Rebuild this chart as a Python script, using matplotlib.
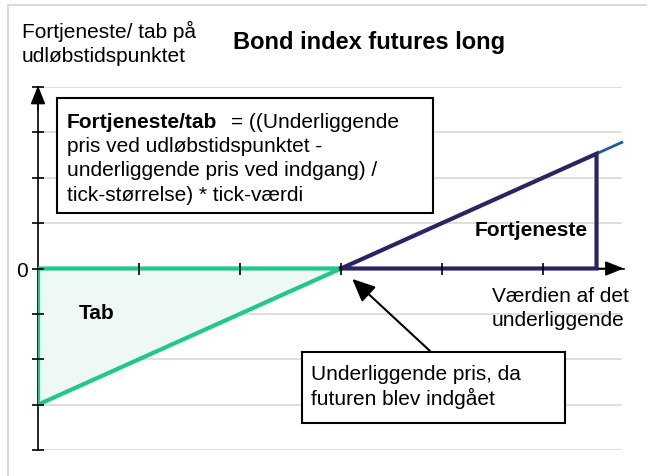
import matplotlib.pyplot as plt
from matplotlib.patches import Rectangle
from matplotlib.lines import Line2D

plt.rcParams['font.family'] = ['Liberation Sans', 'DejaVu Sans']

W, H = 647, 477

# payoff of a long bond index future (entry price at x = 3)
entry = 3.0
loss_x = [0, 0, 3]
loss_y = [0, -3, 0]
profit_x = [3, 5.53, 5.53, 3]
profit_y = [0, 2.53, 0, 0]
ext_x = [5.53, 5.78]
ext_y = [2.53, 2.78]
x_ticks = [1, 2, 3, 4, 5]
y_ticks = [-4, -3, -2, -1, 0, 1, 2, 3, 4]

title = "Bond index futures long"
ylabel_lines = ["Fortjeneste/ tab på", "udløbstidspunktet"]
xlabel_lines = ["Værdien af det", "underliggende"]
formula_bold = "Fortjeneste/tab"
formula_lines = ["= ((Underliggende",
                 "pris ved udløbstidspunktet -",
                 "underliggende pris ved indgang) /",
                 "tick-størrelse) * tick-værdi"]
note_lines = ["Underliggende pris, da", "futuren blev indgået"]

GREEN = "#20c98a"
FILL = "#eef8f4"
NAVY = "#2b2462"
STEEL = "#1d5c9c"
GRID = "#d9d9d9"
FS = 15


def P(x, y):
    # pixel position (from top-left) -> figure fraction
    return x / W, 1 - y / H


fig = plt.figure(figsize=(W / 100, H / 100), dpi=100)
fig.patch.set_facecolor("white")

# outer frame (only top and left edges are visible)
fig.add_artist(Line2D([8 / W, 1], [1 - 6 / H] * 2, color=GRID, lw=1.5))
fig.add_artist(Line2D([8 / W] * 2, [0, 1 - 6 / H], color=GRID, lw=1.5))

ax = fig.add_axes([38 / W, (H - 451) / H, 5.8 * 101 / W, 363 / H])
ax.set_xlim(0, 5.8)
ax.set_ylim(-4, 4)
ax.set_axisbelow(False)

for s in ["top", "right"]:
    ax.spines[s].set_visible(False)
ax.spines["left"].set_position(("data", 0))
ax.spines["bottom"].set_position(("data", 0))
for s in ["left", "bottom"]:
    ax.spines[s].set_linewidth(1.2)
    ax.spines[s].set_zorder(1.8)

ax.hlines([v for v in y_ticks if v != 0], 0, 5.78, color=GRID, lw=1.2, zorder=0.5)

ax.set_xticks(x_ticks, labels=["" for _ in x_ticks])
ax.set_yticks(y_ticks, labels=["0" if v == 0 else "" for v in y_ticks])
ax.tick_params(direction="inout", length=9, width=1.2, pad=3, labelsize=FS)

# axis arrows
arrow_style = dict(arrowstyle="-|>,head_length=0.75,head_width=0.3",
                   color="black", lw=1.2, mutation_scale=15,
                   shrinkA=0, shrinkB=0)
ax.annotate("", xy=(5.8, 0), xytext=(5.55, 0), arrowprops=arrow_style,
            annotation_clip=False)
ax.annotate("", xy=(0, 4.03), xytext=(0, 3.5), arrowprops=arrow_style,
            annotation_clip=False)

# loss triangle and profit triangle
ax.fill(loss_x, loss_y, facecolor=FILL, edgecolor=GREEN, lw=3, zorder=2,
        joinstyle="miter")
ax.plot(profit_x, profit_y, color=NAVY, lw=3, zorder=2.1,
        solid_joinstyle="miter")
ax.plot(ext_x, ext_y, color=STEEL, lw=2, zorder=2)

ax.text(0.4, -1.08, "Tab", fontsize=FS, fontweight="bold", va="baseline")
ax.text(4.32, 0.73, "Fortjeneste", fontsize=FS, fontweight="bold", va="baseline")

# titles and labels
fig.text(*P(233, 49), title, fontsize=17, fontweight="bold", va="baseline")
for i, line in enumerate(ylabel_lines):
    fig.text(*P(22, 38 + 24 * i), line, fontsize=FS, va="baseline")
for i, line in enumerate(xlabel_lines):
    fig.text(*P(492, 302 + 24 * i), line, fontsize=FS, va="baseline")

# formula box
fig.add_artist(Rectangle(P(57, 214), 376 / W, 115 / H, transform=fig.transFigure,
                         facecolor="white", edgecolor="black", lw=1.5, zorder=3))
fig.text(*P(67, 128), formula_bold, fontsize=FS, fontweight="bold",
         va="baseline", zorder=4)
fig.text(*P(231, 128), formula_lines[0], fontsize=FS, va="baseline", zorder=4)
for i, line in enumerate(formula_lines[1:]):
    fig.text(*P(67, 152 + 24.5 * i), line, fontsize=FS, va="baseline", zorder=4)

# note box with arrow to the entry price
fig.add_artist(Rectangle(P(302, 424), 263 / W, 71 / H, transform=fig.transFigure,
                         facecolor="white", edgecolor="black", lw=1.5, zorder=3))
for i, line in enumerate(note_lines):
    fig.text(*P(311, 380 + 25 * i), line, fontsize=FS, va="baseline", zorder=4)
ax.annotate("", xy=(entry, 0), xycoords="data",
            xytext=P(430, 352), textcoords="figure fraction",
            arrowprops=dict(arrowstyle="-|>,head_length=1.0,head_width=0.45",
                            color="black", lw=1.5, mutation_scale=14,
                            shrinkA=0, shrinkB=11))

fig.savefig("out.png", dpi=100)
